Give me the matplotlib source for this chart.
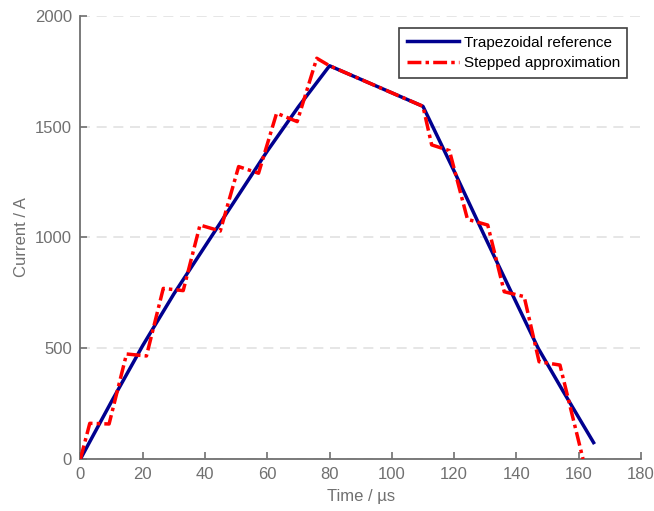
import numpy as np
import matplotlib.pyplot as plt

plt.rcParams['font.family'] = ['Liberation Sans', 'DejaVu Sans']

# trapezoidal reference current (edges are slightly curved)
trap_t = [0, 10, 20, 30, 40, 50, 60, 70, 80, 110, 120, 130, 140, 147, 155, 164.8]
trap_i = [0, 260, 512, 745, 960, 1175, 1390, 1590, 1775, 1592, 1300, 1000, 705, 500, 306, 74]

# stepped approximation
step_t = [0, 3.0, 9.2, 14.8, 21.2, 26.6, 33.0, 38.4, 44.9, 50.8, 57.2, 63.0, 69.6,
          75.9, 80, 110, 112.8, 118.5, 124.3, 130.8, 136.1, 142.5, 147.3, 154.0, 161.4]
step_i = [0, 161, 158, 474, 465, 770, 760, 1056, 1029, 1320, 1290, 1561, 1523,
          1809, 1775, 1592, 1418, 1392, 1082, 1056, 755, 733, 439, 424, 0]

axis_grey = '#707070'

fig = plt.figure(figsize=(6.54, 5.11), dpi=100)
ax = fig.add_axes([0.123, 0.1018, 0.857, 0.867])

ax.plot(trap_t, trap_i, color='#00008f', lw=2.5, label='Trapezoidal reference', zorder=3)
ax.plot(step_t, step_i, color='#ff0000', lw=2.5, ls=(0, (4, 1.2, 1, 1.2)),
        label='Stepped approximation', zorder=4)

ax.set_xlim(0, 180)
ax.set_ylim(0, 2000)
ax.set_xticks(np.arange(0, 181, 20))
ax.set_yticks(np.arange(0, 2001, 500))

ax.yaxis.grid(True, color='#e2e2e2', ls=(0, (6, 4)), lw=1.2)
ax.set_axisbelow(True)

for s in ['top', 'right']:
    ax.spines[s].set_visible(False)
for s in ['left', 'bottom']:
    ax.spines[s].set_color(axis_grey)
    ax.spines[s].set_linewidth(1.3)

ax.tick_params(direction='in', colors=axis_grey, labelsize=12, length=5, width=1.2, pad=6)
ax.set_xlabel('Time / µs', fontsize=12, color=axis_grey, labelpad=5)
ax.set_ylabel('Current / A', fontsize=12, color=axis_grey, labelpad=4)

leg = ax.legend(loc='upper right', bbox_to_anchor=(0.976, 0.973), fontsize=11,
                fancybox=False, framealpha=1, edgecolor='#404040', handlelength=3.4,
                borderpad=0.5, labelspacing=0.45, handletextpad=0.3, borderaxespad=0)
leg.get_frame().set_linewidth(1.2)

fig.savefig('out.png', dpi=100)
